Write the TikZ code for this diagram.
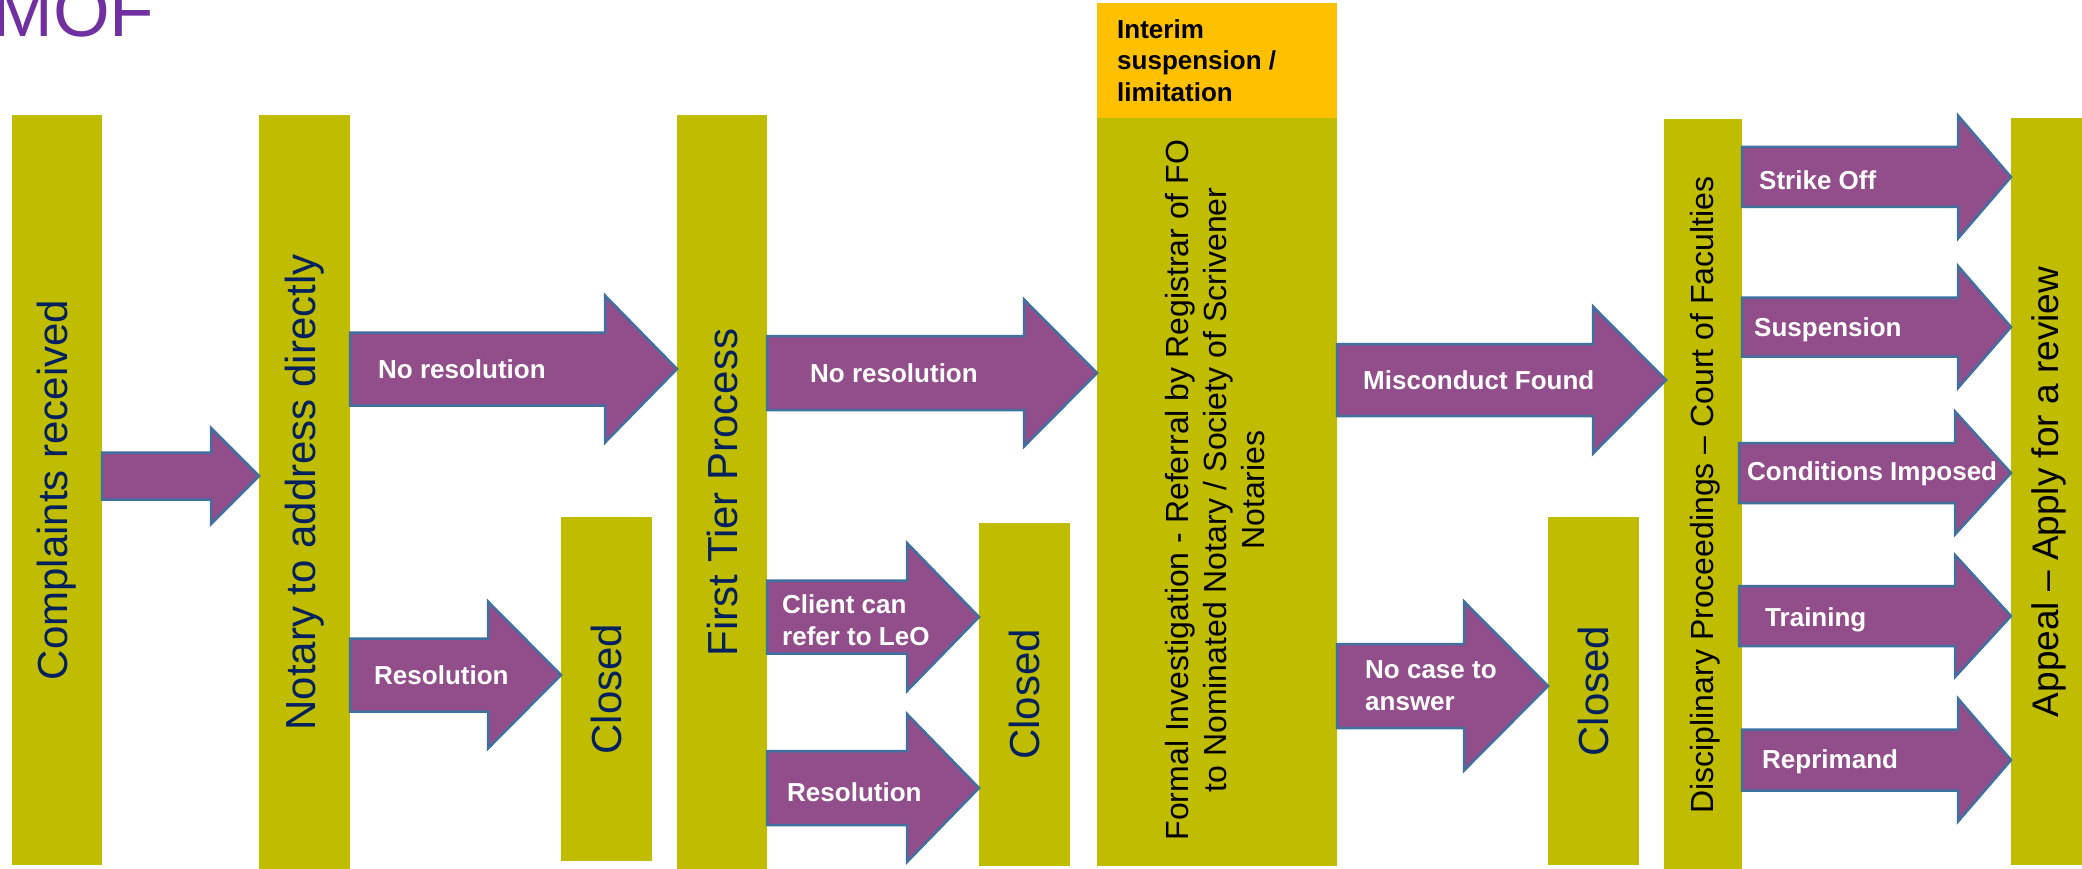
\documentclass[tikz,border=0pt]{standalone}
\usepackage{fontspec}
\setmainfont{Liberation Sans}
\definecolor{olivebox}{RGB}{192,188,0}
\definecolor{arrfill}{RGB}{145,78,138}
\definecolor{arrline}{RGB}{64,112,160}
\definecolor{navy}{RGB}{0,32,96}
\definecolor{interim}{RGB}{255,192,0}
\definecolor{titlepurple}{RGB}{112,48,160}
\newcommand{\barrow}[6]{\draw[blockarrow] (#1,#4-#5) -- (#2,#4-#5) -- (#2,#4-#6) -- (#3,#4) -- (#2,#4+#6) -- (#2,#4+#5) -- (#1,#4+#5) -- cycle;}
\begin{document}
\begin{tikzpicture}[x=1pt,y=-1pt,
  stage/.style={fill=olivebox,draw=none,inner sep=0pt,rectangle},
  blockarrow/.style={fill=arrfill,draw=arrline,line width=2.5pt,line join=miter},
  bigtxt/.style={text=navy,font=\fontsize{42}{50}\selectfont,rotate=90,inner sep=0pt},
  midtxt/.style={text=black,font=\fontsize{32}{38}\selectfont,rotate=90,inner sep=0pt,align=center},
  lbl/.style={text=white,font=\bfseries\fontsize{26}{32}\selectfont,anchor=west,inner sep=0pt,align=left}]
\useasboundingbox (0,0) rectangle (2082,869);
% title
\node[text=titlepurple,font=\fontsize{73}{86}\selectfont,anchor=base west,inner sep=0pt] (title) at (-8,37) {MOF};
% stages
\node[stage,minimum width=90pt,minimum height=750pt] (b1) at (57,490) {};
\node[stage,minimum width=91pt,minimum height=755pt] (b2) at (304.5,492.5) {};
\node[stage,minimum width=91pt,minimum height=344pt] (c1) at (606.5,689) {};
\node[stage,minimum width=90pt,minimum height=755pt] (b3) at (722,492.5) {};
\node[stage,minimum width=91pt,minimum height=343pt] (c2) at (1024.5,694.5) {};
\node[fill=interim,draw=none,inner sep=0pt,minimum width=240pt,minimum height=115pt] (int) at (1217,60.5) {};
\node[stage,minimum width=240pt,minimum height=748pt] (b4) at (1217,492) {};
\node[stage,minimum width=91pt,minimum height=348pt] (c3) at (1593.5,691) {};
\node[stage,minimum width=78pt,minimum height=752pt] (b5) at (1703,495) {};
\node[stage,minimum width=80pt,minimum height=747pt] (b6) at (2051,491.5) {};
% stage texts
\node[bigtxt] (t1) at (b1.center) {Complaints received};
\node[bigtxt] (t2) at (b2.center) {Notary to address directly};
\node[bigtxt] (t3) at (c1.center) {Closed};
\node[bigtxt] (t4) at (b3.center) {First Tier Process};
\node[bigtxt] (t5) at (c2.center) {Closed};
\node[text=black,font=\bfseries\fontsize{26}{31.5}\selectfont,anchor=north west,inner sep=0pt,align=left] (t6) at (1117,19) {Interim\\suspension /\\limitation};
\node[midtxt] (t7) at (1215,490) {Formal Investigation - Referral by Registrar of FO\\to Nominated Notary / Society of Scrivener\\Notaries};
\node[bigtxt] (t8) at (c3.center) {Closed};
\node[midtxt] (t9) at (1705,495) {Disciplinary Proceedings -- Court of Faculties};
\node[midtxt,font=\fontsize{37}{44}\selectfont] (t10) at (2049,492) {Appeal -- Apply for a review};
% arrows
\barrow{102}{211}{259}{476}{23.5}{48}
\barrow{350}{605}{677}{369}{36.5}{73.5}
\barrow{350}{488}{561}{675}{36.5}{73.5}
\barrow{767}{1024}{1097}{373}{37}{73.5}
\barrow{767}{907}{979}{617}{36.5}{74}
\barrow{767}{907}{979}{788}{37}{74}
\barrow{1337}{1593}{1666}{380}{36}{73.5}
\barrow{1337}{1464}{1548}{686}{42}{84.5}
\barrow{1742}{1958}{2011}{177}{30}{61.5}
\barrow{1742}{1958}{2011}{327}{29.5}{61}
\barrow{1739}{1955}{2011}{473}{30}{61.5}
\barrow{1739}{1955}{2011}{616}{30}{61}
\barrow{1742}{1958}{2011}{760}{30.5}{61.5}
% arrow labels
\node[lbl] (l1) at (378,369) {No resolution};
\node[lbl] (l2) at (374,675) {Resolution};
\node[lbl] (l3) at (810,373) {No resolution};
\node[lbl] (l4) at (782,620) {Client can\\refer to LeO};
\node[lbl] (l5) at (787,792) {Resolution};
\node[lbl] (l6) at (1363,380) {Misconduct Found};
\node[lbl] (l7) at (1365,686) {No case to\\answer};
\node[lbl] (l8) at (1759,180) {Strike Off};
\node[lbl] (l9) at (1754,330) {Suspension};
\node[lbl] (l10) at (1747,474) {Conditions Imposed};
\node[lbl] (l11) at (1765,620) {Training};
\node[lbl] (l12) at (1762,762) {Reprimand};
\end{tikzpicture}
\end{document}
